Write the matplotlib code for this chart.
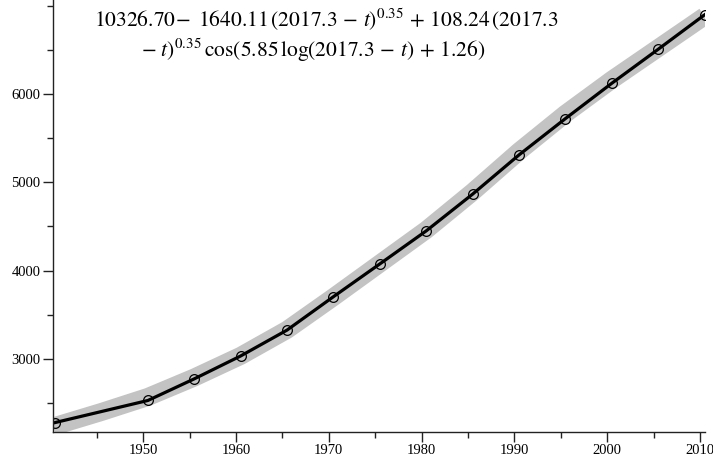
import matplotlib
matplotlib.use("Agg")
import matplotlib.pyplot as plt
from matplotlib.ticker import MultipleLocator

# Observed data (world population, millions)
years = [1940.5, 1950.5, 1955.5, 1960.5, 1965.5, 1970.5, 1975.5, 1980.5,
         1985.5, 1990.5, 1995.5, 2000.5, 2005.5, 2010.5]
population = [2280, 2530, 2775, 3034, 3327, 3705, 4076, 4450,
              4866, 5310, 5721, 6121, 6506, 6896]

# Fitted curve (gray band)
fit_years = [1940.3, 1945.5, 1950.5, 1955.5, 1960.5, 1965.5, 1970.5, 1975.5,
             1980.5, 1985.5, 1990.5, 1995.5, 2000.5, 2005.5, 2010.5]
fit_values = [2235, 2400, 2570, 2790, 3035, 3330, 3700, 4080,
              4460, 4890, 5350, 5775, 6160, 6520, 6880]

x_major = [1950, 1960, 1970, 1980, 1990, 2000, 2010]
y_major = [3000, 4000, 5000, 6000]

line1 = r"$10326.70\!-\ 1640.11\,(2017.3\,-\,t)^{0.35}\, +\, 108.24\,(2017.3$"
line2 = r"$-\ t)^{0.35}\,\cos(5.85\,\log(2017.3\,-\,t)\, +\, 1.26)$"

plt.rcParams['mathtext.fontset'] = 'stix'
plt.rcParams['font.family'] = ['Liberation Serif', 'DejaVu Serif']

fig = plt.figure(figsize=(7.13, 4.59), dpi=100)
ax = fig.add_axes([53/713, 27/459, (705-53)/713, 432/459])

ax.plot(fit_years, fit_values, color='#c3c3c3', lw=13, solid_capstyle='butt',
        solid_joinstyle='round', zorder=1)
ax.plot(years, population, color='black', lw=2.3, marker='o', markersize=7,
        markerfacecolor='none', markeredgecolor='black', markeredgewidth=0.9,
        zorder=2)

ax.set_xlim(1940.27, 2010.55)
ax.set_ylim(2173, 7064)

for s in ['top', 'right']:
    ax.spines[s].set_visible(False)
for s in ['left', 'bottom']:
    ax.spines[s].set_linewidth(1.0)
    ax.spines[s].set_color('#222222')

ax.set_xticks(x_major)
ax.set_yticks(y_major)
ax.xaxis.set_minor_locator(MultipleLocator(5))
ax.yaxis.set_minor_locator(MultipleLocator(500))
ax.tick_params(which='major', length=7, width=1, direction='out', labelsize=10.5,
               pad=2, color='#222222')
ax.tick_params(which='minor', length=4, width=1, direction='out', color='#222222')

fig.text(326/713, 1 - 27/459, line1, ha='center', va='baseline', fontsize=15.5)
fig.text(313/713, 1 - 57/459, line2, ha='center', va='baseline', fontsize=15.5)

fig.savefig("out.png", dpi=100)
